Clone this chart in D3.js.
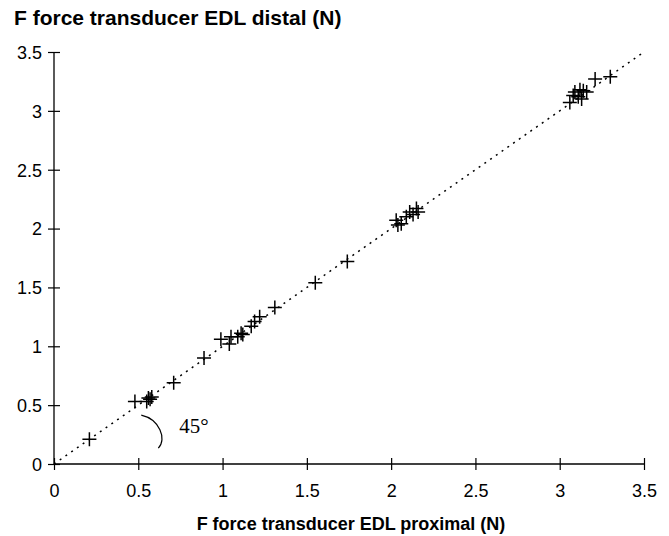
<!DOCTYPE html>
<html>
<head>
<meta charset="utf-8">
<script src="https://cdn.jsdelivr.net/npm/d3@7"></script>
<style>
  body { margin: 0; background: #fff; }
  svg { display: block; }
</style>
</head>
<body>
<div id="chart"></div>
<script>
'use strict';

var xTicks = [0, 0.5, 1, 1.5, 2, 2.5, 3, 3.5];
var yTicks = [0, 0.5, 1, 1.5, 2, 2.5, 3, 3.5];

// proximal (x) vs distal (y) force, N
var proximal = [0.21, 0.48, 0.55, 0.56, 0.57, 0.58, 0.71, 0.89,
  0.99, 1.04, 1.05, 1.09, 1.11, 1.12, 1.17, 1.19, 1.22, 1.31,
  1.55, 1.74,
  2.03, 2.04, 2.06, 2.09, 2.11, 2.13, 2.15, 2.16,
  3.06, 3.08, 3.09, 3.11, 3.12, 3.13, 3.14, 3.16, 3.21, 3.30];
var distal = [0.21, 0.53, 0.53, 0.56, 0.55, 0.57, 0.69, 0.90,
  1.06, 1.02, 1.08, 1.08, 1.11, 1.10, 1.17, 1.21, 1.25, 1.33,
  1.54, 1.72,
  2.07, 2.03, 2.04, 2.10, 2.14, 2.12, 2.17, 2.14,
  3.07, 3.13, 3.16, 3.12, 3.18, 3.10, 3.17, 3.16, 3.27, 3.29];

var width = 669, height = 536;
var margin = {left: 54, right: 25, top: 52, bottom: 72};

var svg = d3.select('#chart').append('svg')
  .attr('width', width)
  .attr('height', height);

var x = d3.scaleLinear().domain([0, 3.5]).range([margin.left, width - margin.right]);
var y = d3.scaleLinear().domain([0, 3.5]).range([height - margin.bottom, margin.top]);

var font = '"Liberation Sans", Arial, sans-serif';

// axes with ticks crossing the line
var xAxis = svg.append('g')
  .attr('transform', 'translate(0,' + y(0) + ')')
  .call(d3.axisBottom(x).tickValues(xTicks).tickFormat(d3.format('')).tickSize(6).tickPadding(14));
xAxis.select('.domain').attr('d', 'M' + x(0) + ',0H' + x(3.5)).attr('stroke-width', 1.3);
xAxis.selectAll('.tick line').attr('y1', -6).attr('stroke-width', 1.2);

var yAxis = svg.append('g')
  .attr('transform', 'translate(' + x(0) + ',0)')
  .call(d3.axisLeft(y).tickValues(yTicks).tickFormat(d3.format('')).tickSize(6).tickPadding(6));
yAxis.select('.domain').attr('d', 'M0,' + y(0) + 'V' + y(3.5)).attr('stroke-width', 1.3);
yAxis.selectAll('.tick line').attr('x1', 6).attr('stroke-width', 1.2);
yAxis.selectAll('.tick text').attr('dy', '0.35em');

svg.selectAll('.tick text')
  .attr('fill', '#000')
  .style('font-family', font)
  .style('font-size', '18px');

// 45 degree identity line
svg.append('line')
  .attr('x1', x(0)).attr('y1', y(0))
  .attr('x2', x(3.5)).attr('y2', y(3.5))
  .attr('stroke', '#000')
  .attr('stroke-width', 1.5)
  .attr('stroke-dasharray', '2,5');

// angle arc + label
var cx = x(0.5), cy = y(0.5) + 4;
svg.append('path')
  .attr('d', 'M' + (cx + 3) + ',' + (cy + 6) +
    ' C' + (cx + 21) + ',' + (cy + 10) + ' ' + (cx + 29) + ',' + (cy + 30) + ' ' + (cx + 20) + ',' + (cy + 39))
  .attr('fill', 'none')
  .attr('stroke', '#000')
  .attr('stroke-width', 1.2);

svg.append('text')
  .attr('x', cx + 41).attr('y', cy + 24)
  .style('font-family', '"Liberation Serif", "Times New Roman", serif')
  .style('font-size', '21px')
  .text('45\u00b0');

// data crosses
var pts = proximal.map(function(d, i) { return [d, distal[i]]; });
var arm = 7;
svg.append('g').selectAll('path')
  .data(pts)
  .enter().append('path')
  .attr('d', function(d) {
    var px = x(d[0]), py = y(d[1]);
    return 'M' + (px - arm) + ',' + py + 'H' + (px + arm) +
      'M' + px + ',' + (py - arm) + 'V' + (py + arm);
  })
  .attr('stroke', '#000')
  .attr('stroke-width', 1.5)
  .attr('fill', 'none');

// titles
svg.append('text')
  .attr('x', 14).attr('y', 25)
  .style('font-family', font)
  .style('font-weight', 'bold')
  .style('font-size', '21px')
  .text('F force transducer EDL distal (N)');

svg.append('text')
  .attr('x', 351).attr('y', 530)
  .attr('text-anchor', 'middle')
  .style('font-family', font)
  .style('font-weight', 'bold')
  .style('font-size', '18px')
  .text('F force transducer EDL proximal (N)');
</script>
</body>
</html>
